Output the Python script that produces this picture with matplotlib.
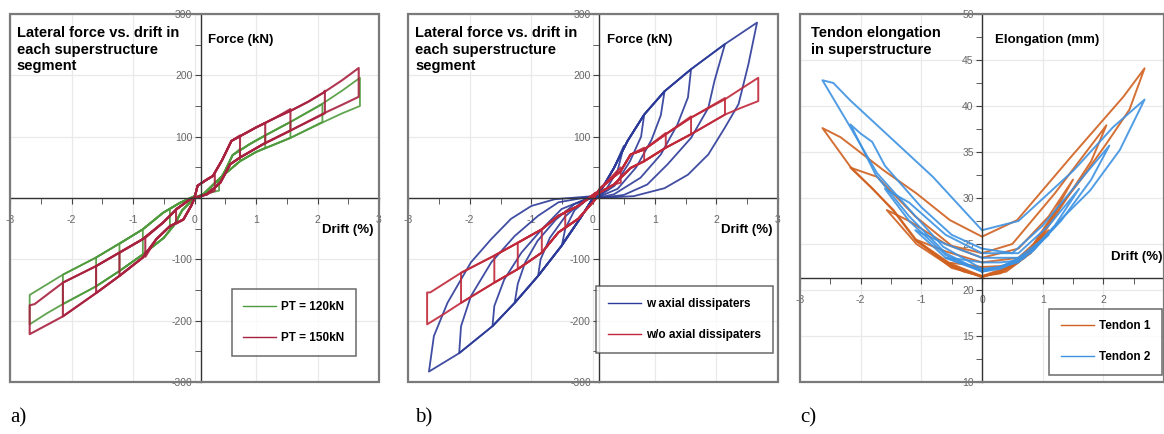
"""Three-panel hysteresis figure: lateral force / tendon elongation vs drift."""

import matplotlib

matplotlib.use("Agg")
import matplotlib.pyplot as plt
import numpy as np
from matplotlib.lines import Line2D
from matplotlib.patches import Rectangle

plt.rcParams["font.family"] = ["Liberation Sans", "DejaVu Sans"]
plt.rcParams["axes.unicode_minus"] = False

# ---------------- panel a: PT = 120kN (green) vs PT = 150kN (red) ----------------
A_RED_POS_LOAD = [(0.0, 0), (0.05, 20), (0.2, 30), (0.3, 36), (0.45, 62), (0.6, 93), (0.8, 104),
                  (1.0, 115), (1.3, 130), (1.56, 142), (1.85, 157), (2.1, 172), (2.4, 192)]
A_RED_POS_UNLOAD = [(2.4, 152), (2.1, 138), (1.56, 110), (1.12, 88), (0.74, 66), (0.58, 55),
                    (0.42, 25), (0.2, 6), (0.0, 0)]
A_RED_NEG_LOAD = [(0.0, 0), (-0.05, -12), (-0.18, -35), (-0.4, -46), (-0.62, -67), (-0.84, -97),
                  (-1.22, -127), (-1.6, -155), (-2.14, -193), (-2.4, -207)]
A_RED_NEG_UNLOAD = [(-2.6, -173), (-2.14, -138), (-1.6, -111), (-1.22, -89), (-0.84, -67),
                    (-0.51, -40), (-0.29, -18), (-0.07, -2), (0.0, 0)]
A_RED_AMP_POS = [0.33, 0.74, 1.15, 1.56, 2.12, 2.67]
A_RED_PEAK_POS = [38, 102, 122, 145, 175, 212]
A_RED_DROP_POS = [12, 66, 89, 110, 138, 165]
A_RED_AMP_NEG = [0.3, 0.8, 1.22, 1.6, 2.14, 2.68]
A_RED_PEAK_NEG = [-42, -96, -127, -155, -193, -222]
A_RED_DROP_NEG = [-18, -65, -89, -111, -138, -175]

A_GRN_POS_LOAD = [(0.0, 0), (0.15, 5), (0.35, 18), (0.5, 45), (0.62, 70), (0.9, 88), (1.15, 102),
                  (1.56, 124), (2.1, 155), (2.4, 175)]
A_GRN_POS_UNLOAD = [(2.4, 138), (2.1, 124), (1.56, 98), (1.0, 75), (0.74, 60), (0.42, 33),
                    (0.14, 6), (0.0, 0)]
A_GRN_NEG_LOAD = [(0.0, 0), (-0.2, -20), (-0.33, -44), (-0.5, -65), (-0.84, -92), (-1.22, -119),
                  (-1.6, -144), (-2.14, -173), (-2.4, -188)]
A_GRN_NEG_UNLOAD = [(-2.63, -155), (-2.14, -125), (-1.6, -97), (-1.1, -67), (-0.84, -51),
                    (-0.51, -24), (-0.24, -8), (0.0, 3)]
A_GRN_AMP_POS = [0.4, 0.74, 1.15, 1.56, 2.08, 2.69]
A_GRN_PEAK_POS = [25, 80, 102, 124, 153, 196]
A_GRN_DROP_POS = [12, 60, 82, 98, 124, 150]
A_GRN_AMP_NEG = [0.4, 0.84, 1.22, 1.6, 2.14, 2.68]
A_GRN_PEAK_NEG = [-50, -92, -119, -144, -173, -206]
A_GRN_DROP_NEG = [-18, -51, -75, -97, -125, -158]

# ---------------- panel b: with (blue) / without (red) axial dissipaters ----------------
B_RED_POS_LOAD = [(0.0, 0), (0.12, 16), (0.45, 44), (0.61, 71), (0.83, 79), (1.18, 104),
                  (1.59, 131), (2.14, 161), (2.4, 178)]
B_RED_POS_UNLOAD = [(2.4, 147), (2.14, 136), (1.59, 104), (1.18, 82), (0.83, 60), (0.61, 49),
                    (0.34, 22), (0.0, 3)]
B_RED_NEG_LOAD = [(0.04, -2), (-0.24, -34), (-0.56, -56), (-0.83, -89), (-1.22, -116),
                  (-1.6, -138), (-2.14, -171), (-2.4, -188)]
B_RED_NEG_UNLOAD = [(-2.64, -154), (-2.14, -122), (-1.6, -94), (-1.22, -73), (-0.83, -51),
                    (-0.56, -29), (-0.24, -13), (0.04, 8)]
B_RED_AMP_POS = [0.45, 0.83, 1.18, 1.59, 2.14, 2.68]
B_RED_PEAK_POS = [50, 82, 106, 133, 163, 196]
B_RED_DROP_POS = [25, 60, 82, 104, 136, 158]
B_RED_AMP_NEG = [0.45, 0.83, 1.22, 1.6, 2.14, 2.69]
B_RED_PEAK_NEG = [-48, -89, -116, -138, -171, -206]
B_RED_DROP_NEG = [-22, -51, -73, -94, -122, -154]

B_BLUE_POS_LOAD = [(0.0, 0), (0.12, 11), (0.34, 49), (0.56, 93), (0.83, 136), (1.16, 174),
                   (1.59, 210), (2.14, 251)]
B_BLUE_AMP_POS = [0.5, 0.83, 1.16, 1.59, 2.14, 2.66]
B_BLUE_PEAK_POS = [85, 136, 174, 210, 251, 286]
B_BLUE_POS_UNLOAD = [
    [(0.4, 45), (0.2, 12), (0.0, 0)],
    [(0.78, 100), (0.6, 60), (0.35, 20), (0.05, 0)],
    [(1.1, 135), (0.95, 95), (0.7, 50), (0.4, 15), (0.05, 0)],
    [(1.54, 164), (1.37, 120), (1.1, 71), (0.77, 33), (0.34, 6), (0.05, 0)],
    [(1.97, 191), (1.87, 147), (1.59, 98), (1.21, 55), (0.88, 22), (0.5, 5), (0.1, 0)],
    [(2.52, 218), (2.36, 153), (2.14, 115), (1.87, 71), (1.54, 38), (1.16, 16), (0.66, 3), (0.1, 0)],
]
B_BLUE_NEG_LOAD = [(0.0, 0), (-0.18, -29), (-0.51, -78), (-0.89, -127), (-1.27, -171),
                   (-1.63, -209), (-2.17, -253)]
B_BLUE_AMP_NEG = [0.5, 0.89, 1.27, 1.63, 2.17, 2.66]
B_BLUE_PEAK_NEG = [-75, -127, -171, -209, -253, -283]
B_BLUE_NEG_UNLOAD = [
    [(-0.45, -50), (-0.3, -20), (-0.1, -3), (0.0, 0)],
    [(-0.85, -100), (-0.7, -65), (-0.45, -30), (-0.2, -8), (0.0, 2)],
    [(-1.22, -140), (-1.1, -105), (-0.9, -70), (-0.6, -35), (-0.3, -10), (0.0, 2)],
    [(-1.6, -176), (-1.44, -133), (-1.16, -89), (-0.83, -51), (-0.51, -18), (0.0, 3)],
    [(-2.14, -209), (-1.98, -160), (-1.65, -105), (-1.27, -62), (-0.89, -29), (-0.56, -7), (0.0, 3)],
    [(-2.58, -225), (-2.36, -171), (-1.98, -105), (-1.65, -67), (-1.33, -34), (-1.0, -13),
     (-0.62, -2), (0.0, 3)],
]

# ---------------- panel c: tendon elongation (mm) ----------------
C_T1_LOOPS = [
    [(0, 21.5), (-0.3, 22), (-0.6, 23), (-0.3, 22.8), (0, 22.5), (0.3, 22.6), (0.6, 23), (0.3, 21.8), (0, 21.5)],
    [(0, 21.5), (-0.5, 22.4), (-1.1, 25.5), (-0.6, 24.2), (0, 23), (0.6, 23.5), (1.1, 26.5), (0.8, 24),
     (0.4, 22), (0, 21.5)],
    [(0, 21.4), (-0.53, 22.6), (-1.08, 25), (-1.57, 28.7), (-1.2, 27.5), (-0.6, 25), (0, 23.5), (0.6, 24.5),
     (1.1, 28), (1.5, 32), (1.2, 28.5), (0.7, 23.5), (0.3, 22), (0, 21.4)],
    [(0, 21.4), (-0.53, 22.8), (-1.08, 25.3), (-1.46, 28.6), (-1.8, 31), (-2.17, 33.3), (-1.73, 32.3),
     (-1.1, 28), (-0.5, 24.8), (0, 24), (0.5, 25), (1.2, 30.5), (2.05, 37.9), (1.8, 34), (1.3, 29),
     (0.8, 24), (0.4, 22.3), (0, 21.4)],
    [(0, 21.5), (-0.53, 22.9), (-1.08, 25.4), (-1.46, 28.7), (-2.17, 33.4), (-2.63, 37.6), (-2.33, 36.6),
     (-1.62, 33.0), (-1.08, 30.5), (-0.53, 27.6), (0, 25.8), (0.58, 27.6), (1.51, 34.8), (2.33, 41.0),
     (2.68, 44.1), (2.43, 39.6), (2.05, 35.9), (1.62, 31.9), (1.24, 28.7), (0.85, 24.7), (0.42, 22.5),
     (0, 21.5)],
]
C_T2_LOOPS = [
    [(0, 22.2), (-0.3, 22.8), (-0.6, 23.5), (-0.3, 23.3), (0, 23), (0.3, 23), (0.6, 23.2), (0.3, 22.5), (0, 22.2)],
    [(0, 22), (-0.6, 23.5), (-1.1, 26.5), (-0.6, 25), (0, 23.5), (0.6, 23.5), (1.1, 26), (0.6, 23), (0, 22)],
    [(0, 22), (-0.6, 23.8), (-1.2, 27.5), (-1.6, 31), (-1.2, 29.5), (-0.6, 26), (0, 24), (0.6, 24),
     (1.1, 27), (1.6, 31), (1.2, 27), (0.7, 23.5), (0.3, 22.3), (0, 22)],
    [(0, 22), (-0.6, 24), (-1.2, 28), (-1.75, 32.5), (-2.17, 38), (-2.0, 37), (-1.81, 36.1), (-1.6, 33.5),
     (-1.0, 29), (-0.5, 26), (0, 24.5), (0.5, 24), (1.0, 27), (1.5, 31), (2.1, 35.7), (1.8, 32),
     (1.3, 27.5), (0.8, 24), (0.3, 22.5), (0, 22)],
    [(0, 22.3), (-0.64, 24.7), (-1.19, 28.7), (-1.73, 32.7), (-2.17, 37.7), (-2.63, 42.8), (-2.45, 42.5),
     (-2.17, 40.6), (-1.35, 35.6), (-0.81, 32.3), (0, 26.5), (0.6, 27.5), (1.51, 33.0), (2.16, 37.7),
     (2.68, 40.7), (2.27, 35.2), (1.78, 30.8), (1.29, 27.6), (0.85, 24.3), (0.31, 22.5), (0, 22.3)],
]

DRIFT_TICKS = [-3, -2, -1, 0, 1, 2, 3]
DRIFT_LABELS = ["-3", "-2", "-1", "0", "1", "2", "3"]
DRIFT_LABELS_C = ["-3", "-2", "-1", "0", "1", "2", ""]
FORCE_TICKS = [-300, -200, -100, 0, 100, 200, 300]
FORCE_LABELS = ["-300", "-200", "-100", "", "100", "200", "300"]
ELONG_TICKS = [10, 15, 20, 25, 30, 35, 40, 45, 50]

GREEN, RED_A = "#4f9a3c", "#a8213f"
BLUE_B, RED_B = "#2b3a98", "#c0283a"
ORANGE_C, BLUE_C = "#d0601f", "#3d92e2"


def bilinear_loop(pos_load, pos_unload, neg_load, neg_unload, amp_p, peak_p, drop_p, amp_n, peak_n, drop_n):
    """One full cycle: load along envelope to the peak, drop, unload, then the negative half."""
    pts = [p for p in pos_load if p[0] < amp_p]
    pts += [(amp_p, peak_p), (amp_p, drop_p)]
    pts += [p for p in pos_unload if p[0] < amp_p - 0.02]
    pts += [p for p in neg_load if p[0] > -amp_n]
    pts += [(-amp_n, peak_n), (-amp_n, drop_n)]
    pts += [p for p in neg_unload if p[0] > -amp_n + 0.02]
    arr = np.array(pts, dtype=float)
    return arr[:, 0], arr[:, 1]


def draw_bilinear(ax, color, lw, pos_load, pos_unload, neg_load, neg_unload,
                  amp_p, peak_p, drop_p, amp_n, peak_n, drop_n):
    for i in range(len(amp_p)):
        x, y = bilinear_loop(pos_load, pos_unload, neg_load, neg_unload,
                             amp_p[i], peak_p[i], drop_p[i], amp_n[i], peak_n[i], drop_n[i])
        ax.plot(x, y, color=color, lw=lw, alpha=0.9, solid_joinstyle="round")


def draw_loops(ax, loops, color, lw):
    for loop in loops:
        arr = np.array(loop, dtype=float)
        ax.plot(arr[:, 0], arr[:, 1], color=color, lw=lw, alpha=0.9, solid_joinstyle="round")


def style_axes(ax, ylim, yticks, ylabels, yminor, x_cross, y_cross, xlabels):
    ax.set_xlim(-3, 3)
    ax.set_ylim(*ylim)
    for side in ("top", "right"):
        ax.spines[side].set_visible(False)
    ax.spines["left"].set_position(("data", x_cross))
    ax.spines["bottom"].set_position(("data", y_cross))
    for side in ("left", "bottom"):
        ax.spines[side].set_color("#333333")
        ax.spines[side].set_linewidth(1.0)
    ax.set_xticks(DRIFT_TICKS)
    ax.set_xticklabels(xlabels)
    ax.set_xticks(np.arange(-2.5, 3.0, 1.0), minor=True)
    ax.set_yticks(yticks)
    ax.set_yticklabels(ylabels)
    ax.set_yticks(yminor, minor=True)
    ax.tick_params(axis="x", which="both", direction="out", length=4, pad=8,
                   labelsize=7.5, labelcolor="#666666", color="#444444")
    ax.tick_params(axis="y", which="both", direction="out", length=4, pad=2,
                   labelsize=7.5, labelcolor="#666666", color="#444444")
    ax.grid(True, which="major", color="#e9e9e9", lw=0.9)
    ax.set_axisbelow(True)
    ax.add_patch(Rectangle((0, 0), 1, 1, transform=ax.transAxes, fill=False,
                           edgecolor="#7a7a7a", lw=1.6, clip_on=False, zorder=5))


def add_legend(ax, labels, colors, anchor):
    handles = [Line2D([], [], color=c, lw=1.0) for c in colors]
    leg = ax.legend(handles, labels, loc="lower right", bbox_to_anchor=anchor, borderaxespad=0,
                    prop={"weight": "bold", "size": 8.5}, frameon=True, fancybox=False,
                    handlelength=2.8, handletextpad=0.4, labelspacing=1.6, borderpad=1.0)
    leg.get_frame().set_edgecolor("#444444")
    leg.get_frame().set_linewidth(1.1)


fig = plt.figure(figsize=(11.64, 4.34), dpi=100)
W, H = 1164, 434
ax_a = fig.add_axes([10 / W, (H - 382) / H, 369 / W, 368 / H])
ax_b = fig.add_axes([408 / W, (H - 382) / H, 370 / W, 368 / H])
ax_c = fig.add_axes([800 / W, (H - 382) / H, 364 / W, 368 / H])

force_minor = [-250, -150, -50, 50, 150, 250]

# panel a
style_axes(ax_a, (-300, 300), FORCE_TICKS, FORCE_LABELS, force_minor, 0.1, 0, DRIFT_LABELS)
draw_bilinear(ax_a, GREEN, 1.3, A_GRN_POS_LOAD, A_GRN_POS_UNLOAD, A_GRN_NEG_LOAD, A_GRN_NEG_UNLOAD,
              A_GRN_AMP_POS, A_GRN_PEAK_POS, A_GRN_DROP_POS, A_GRN_AMP_NEG, A_GRN_PEAK_NEG, A_GRN_DROP_NEG)
draw_bilinear(ax_a, RED_A, 1.5, A_RED_POS_LOAD, A_RED_POS_UNLOAD, A_RED_NEG_LOAD, A_RED_NEG_UNLOAD,
              A_RED_AMP_POS, A_RED_PEAK_POS, A_RED_DROP_POS, A_RED_AMP_NEG, A_RED_PEAK_NEG, A_RED_DROP_NEG)
add_legend(ax_a, ["PT = 120kN", "PT = 150kN"], [GREEN, RED_A], (0.938, 0.071))

# panel b
style_axes(ax_b, (-300, 300), FORCE_TICKS, FORCE_LABELS, force_minor, 0.1, 0, DRIFT_LABELS)
for i in range(len(B_BLUE_AMP_POS)):
    pts = [p for p in B_BLUE_POS_LOAD if p[0] < B_BLUE_AMP_POS[i]]
    pts += [(B_BLUE_AMP_POS[i], B_BLUE_PEAK_POS[i])] + B_BLUE_POS_UNLOAD[i]
    pts += [p for p in B_BLUE_NEG_LOAD if p[0] > -B_BLUE_AMP_NEG[i]]
    pts += [(-B_BLUE_AMP_NEG[i], B_BLUE_PEAK_NEG[i])] + B_BLUE_NEG_UNLOAD[i]
    arr = np.array(pts, dtype=float)
    ax_b.plot(arr[:, 0], arr[:, 1], color=BLUE_B, lw=1.3, alpha=0.9, solid_joinstyle="round")
draw_bilinear(ax_b, RED_B, 1.4, B_RED_POS_LOAD, B_RED_POS_UNLOAD, B_RED_NEG_LOAD, B_RED_NEG_UNLOAD,
              B_RED_AMP_POS, B_RED_PEAK_POS, B_RED_DROP_POS, B_RED_AMP_NEG, B_RED_PEAK_NEG, B_RED_DROP_NEG)
add_legend(ax_b, ["w axial dissipaters", "w/o axial dissipaters"], [BLUE_B, RED_B], (0.986, 0.079))

# panel c
style_axes(ax_c, (10, 50), ELONG_TICKS, [str(t) for t in ELONG_TICKS],
           [12.5, 17.5, 22.5, 27.5, 32.5, 37.5, 42.5, 47.5], 0, 21.3, DRIFT_LABELS_C)
draw_loops(ax_c, C_T1_LOOPS, ORANGE_C, 1.4)
draw_loops(ax_c, C_T2_LOOPS, BLUE_C, 1.4)
add_legend(ax_c, ["Tendon 1", "Tendon 2"], [ORANGE_C, BLUE_C], (0.995, 0.019))

for ax, title, tx, ylab in [
    (ax_a, "Lateral force vs. drift in\neach superstructure\nsegment", 0.018, "Force (kN)"),
    (ax_b, "Lateral force vs. drift in\neach superstructure\nsegment", 0.019, "Force (kN)"),
    (ax_c, "Tendon elongation\nin superstructure", 0.029, "Elongation (mm)"),
]:
    ax.text(tx, 0.967, title, transform=ax.transAxes, ha="left", va="top",
            fontsize=10.5, fontweight="bold", linespacing=1.22, zorder=6)
    ax.text(0.537, 0.945, ylab, transform=ax.transAxes, ha="left", va="top",
            fontsize=9.5, fontweight="bold", zorder=6)

ax_a.text(0.916, 0.413, "Drift (%)", transform=ax_a.transAxes, ha="center", va="center",
          fontsize=9.5, fontweight="bold")
ax_b.text(0.915, 0.413, "Drift (%)", transform=ax_b.transAxes, ha="center", va="center",
          fontsize=9.5, fontweight="bold")
ax_c.text(0.925, 0.34, "Drift (%)", transform=ax_c.transAxes, ha="center", va="center",
          fontsize=9.5, fontweight="bold")

for x, lab in [(10, "a)"), (415, "b)"), (800, "c)")]:
    fig.text(x / W, 1 - 418 / H, lab, family="Liberation Serif", fontsize=15, ha="left", va="center")

fig.savefig("out.png", dpi=100)
